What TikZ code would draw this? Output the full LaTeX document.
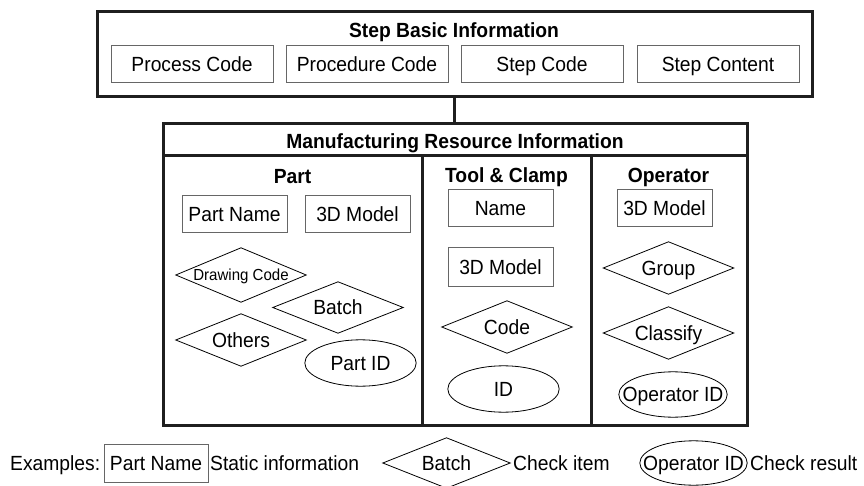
\documentclass[tikz,border=0pt]{standalone}
\usepackage{fontspec}
\setmainfont{Liberation Sans}[FakeStretch=0.94]
\usetikzlibrary{calc}
\newcommand\fsN{\fontsize{20.5pt}{24pt}\selectfont}
\newcommand\fsS{\fontsize{16pt}{19pt}\selectfont}
\begin{document}
\begin{tikzpicture}[x=1pt,y=-1pt,
  base/.style={inner sep=0pt, text height=14.7pt, text depth=0pt},
  frame/.style={draw=black!88, line width=3pt, rectangle, inner sep=0pt},
  info/.style={base, draw=black!60, line width=1pt, rectangle, minimum width=105pt, minimum height=37pt, font=\fsN},
  chk/.style={base, rectangle, minimum width=130pt, minimum height=52pt, font=\fsN},
  res/.style={base, rectangle, minimum width=111pt, minimum height=46pt, font=\fsN},
  ttl/.style={base, font=\bfseries\fsN},
  txt/.style={base, font=\fsN, anchor=west},
  diaml/.style={draw=black, line width=0.8pt, line join=miter},
  elll/.style={draw=black, line width=0.8pt}
]
\useasboundingbox[fill=white] (0,0) rectangle (864,486);

% Step basic information
\node[frame, minimum width=715pt, minimum height=85pt] (stepbox) at (454.5,54.5) {};
\node[ttl] (steptitle) at (454,30.5) {Step Basic Information};
\node[info, minimum width=162pt] (proc) at (192,64) {Process Code};
\node[info, minimum width=162pt] (procd) at (367,64) {Procedure Code};
\node[info, minimum width=162pt] (stepc) at (542,64) {Step Code};
\node[info, minimum width=162pt] (stepct) at (718,64) {Step Content};

% Manufacturing resource information
\node[frame, minimum width=584pt, minimum height=32pt] (mrititle) at (455,140) {};
\node[ttl] (mrilabel) at (455,141) {Manufacturing Resource Information};
\node[frame, minimum width=259pt, minimum height=269pt] (partcol) at (292.5,290.5) {};
\node[frame, minimum width=169pt, minimum height=269pt] (toolcol) at (506.5,290.5) {};
\node[frame, minimum width=156pt, minimum height=269pt] (opcol) at (669,290.5) {};
\draw[line width=3pt, draw=black!88] (stepbox.south) -- (stepbox.south |- mrititle.north);

% Part column
\node[ttl] (parttitle) at (292.5,176) {Part};
\node[info] (pname) at (234.5,214.5) {Part Name};
\node[info] (pmodel) at (357.5,214.5) {3D Model};
\node[chk, minimum height=54pt, font=\fsS, text height=11.5pt] (dcode) at (241,275) {Drawing Code};
\node[chk, minimum height=51pt] (batch) at (338,307.5) {Batch};
\node[chk] (others) at (241,340) {Others};
\node[res] (partid) at (360.5,363) {Part ID};

% Tool & clamp column
\node[ttl] (tooltitle) at (506.5,175.5) {Tool \& Clamp};
\node[info] (tname) at (500.5,208.5) {Name};
\node[info, minimum height=38pt] (tmodel) at (500.5,267) {3D Model};
\node[chk] (tcode) at (507,327) {Code};
\node[res] (tid) at (503.5,389) {ID};

% Operator column
\node[ttl] (optitle) at (668.5,175.5) {Operator};
\node[info, minimum width=95pt] (omodel) at (664.5,208.5) {3D Model};
\node[chk] (group) at (668.5,268) {Group};
\node[chk] (classify) at (668.5,333) {Classify};
\node[res, minimum width=108pt, minimum height=45pt] (opid) at (673,394.5) {Operator ID};

% Legend
\node[txt] (examples) at (10,463) {Examples:};
\node[info, minimum width=104pt, minimum height=38pt] (lbox) at (156,463) {Part Name};
\node[txt] (lstatic) at (210,463) {Static information};
\node[chk, minimum width=127pt, minimum height=50pt] (ldiam) at (446.5,463) {Batch};
\node[txt] (lcheck) at (513,463) {Check item};
\node[res, minimum width=107pt, minimum height=44pt] (lell) at (693.5,463) {Operator ID};
\node[txt] (lresult) at (750,463) {Check result};

\foreach \n in {dcode,batch,others,tcode,group,classify,ldiam}
  \draw[diaml] (\n.west) -- (\n.north) -- (\n.east) -- (\n.south) -- cycle;
\foreach \e in {partid,tid,opid,lell}
  \draw[elll] let \p1=(\e.east), \p2=(\e.north), \p3=(\e.center) in
    (\e.center) ellipse [x radius={\x1-\x3}, y radius={\y2-\y3}];
\end{tikzpicture}
\end{document}
